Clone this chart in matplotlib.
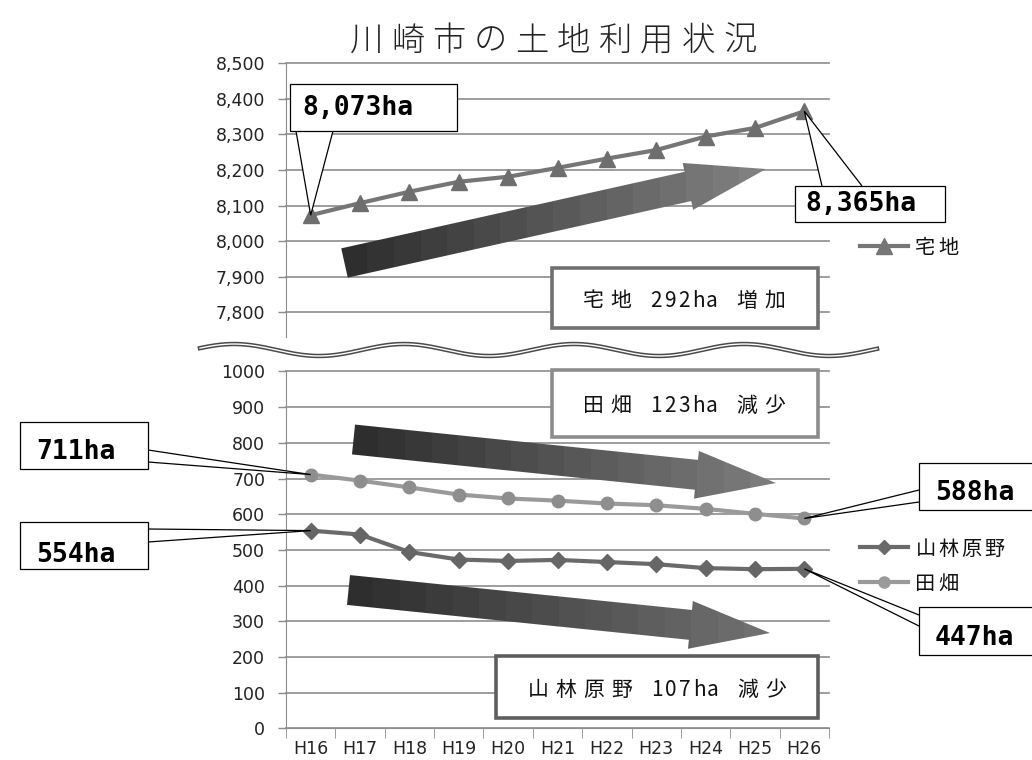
import numpy as np
import matplotlib.pyplot as plt
from matplotlib.patches import Polygon, Rectangle
from matplotlib.colors import LinearSegmentedColormap
from matplotlib.ticker import FuncFormatter

W, H = 1032, 760
JP = "Noto Sans CJK JP"

years = ["H16", "H17", "H18", "H19", "H20", "H21", "H22", "H23", "H24", "H25", "H26"]
takuchi = [8073, 8107, 8139, 8167, 8181, 8206, 8232, 8256, 8294, 8318, 8365]
denpata = [711, 694, 675, 655, 644, 638, 630, 625, 615, 601, 588]
sanrin = [554, 543, 494, 473, 469, 472, 466, 460, 449, 446, 447]

top_ticks = list(range(7800, 8501, 100))
bot_ticks = list(range(0, 1001, 100))

GRID = "#8c8c8c"

fig = plt.figure(figsize=(W / 100, H / 100), dpi=100)


def px_axes(x0, y0, x1, y1):
    return fig.add_axes([x0 / W, 1 - y1 / H, (x1 - x0) / W, (y1 - y0) / H])


x = np.arange(len(years))
ax_top = px_axes(286, 63.2, 829, 337.3)
ax_bot = px_axes(286, 371.4, 829, 728.4)

for ax in (ax_top, ax_bot):
    ax.set_xlim(-0.5, len(years) - 0.5)
    for s in ["top", "right"]:
        ax.spines[s].set_visible(False)
    ax.spines["left"].set_color(GRID)
    ax.yaxis.grid(True, color=GRID, lw=1.2)
    ax.set_axisbelow(True)
    ax.tick_params(axis="y", length=6, width=1, color=GRID, pad=9,
                   labelsize=12.5, labelcolor="#222222")

ax_top.set_ylim(7730, 8500)
ax_top.set_yticks(top_ticks)
ax_top.yaxis.set_major_formatter(FuncFormatter(lambda v, p: f"{v:,.0f}"))
ax_top.spines["bottom"].set_visible(False)
ax_top.set_xticks([])

ax_bot.set_ylim(0, 1000)
ax_bot.set_yticks(bot_ticks)
ax_bot.set_xticks(x)
ax_bot.set_xticklabels(years)
ax_bot.set_xticks(np.arange(-0.5, len(years)), minor=True)
ax_bot.tick_params(axis="x", which="major", length=0, pad=8, labelsize=12.5,
                   labelcolor="#222222")
ax_bot.tick_params(axis="x", which="minor", length=7, color=GRID)
ax_bot.spines["bottom"].set_color(GRID)

for ax in (ax_top, ax_bot):
    for gl in ax.yaxis.get_gridlines():
        gl.set_clip_on(False)

ax_top.plot(x, takuchi, color="#767676", lw=3, marker="^", ms=12,
            mfc="#6e6e6e", mec="#6e6e6e", zorder=3)
ax_bot.plot(x, denpata, color="#9a9a9a", lw=3, marker="o", ms=9,
            mfc="#8e8e8e", mec="#8e8e8e", zorder=3)
ax_bot.plot(x, sanrin, color="#6a6a6a", lw=3, marker="D", ms=8,
            mfc="#666666", mec="#666666", zorder=3)

# overlay in pixel coordinates for arrows, boxes and labels
ov = fig.add_axes([0, 0, 1, 1])
ov.set_xlim(0, W)
ov.set_ylim(H, 0)
ov.axis("off")
ov.patch.set_alpha(0)


def to_px(ax, xv, yv):
    disp = ax.transData.transform((xv, yv))
    return ov.transData.inverted().transform(disp)


def grid_text(cx, cy, s, pitch, size, ha="center", **kw):
    # full-width chars take one cell, ascii takes half
    widths = [pitch / 2 if ord(ch) < 128 else pitch for ch in s]
    pos = cx - sum(widths) / 2 if ha == "center" else cx
    base = cy + 0.38 * size * 100 / 72
    for ch, w in zip(s, widths):
        if ch != " ":
            ov.text(pos + w / 2, base, ch, ha="center", va="baseline",
                    fontsize=size, family=JP, **kw)
        pos += w


def grad_arrow(tail, tip, c0, c1, body=30, head=48, head_len=80):
    tail, tip = np.array(tail, float), np.array(tip, float)
    d = tip - tail
    u = d / np.hypot(*d)
    n = np.array([-u[1], u[0]])
    hb = tip - u * head_len
    pts = [tail + n * body / 2, hb + n * body / 2, hb + n * head / 2, tip,
           hb - n * head / 2, hb - n * body / 2, tail - n * body / 2]
    poly = Polygon(pts, closed=True, fc="none", ec="none")
    ov.add_patch(poly)
    xs = [p[0] for p in pts]
    ys = [p[1] for p in pts]
    cmap = LinearSegmentedColormap.from_list("arrow", [c0, c1])
    grad = np.linspace(0, 1, 16).reshape(1, -1)
    im = ov.imshow(grad, cmap=cmap, aspect="auto", interpolation="nearest",
                   extent=[min(xs), max(xs), max(ys), min(ys)], zorder=2)
    im.set_clip_path(poly)


def callout(text, box, base, tip, tx, ty):
    x0, y0, x1, y1 = box
    ov.add_patch(Polygon([base[0], tip, base[1]], closed=False, fc="white",
                         ec="black", lw=0.9, zorder=5))
    ov.add_patch(Rectangle((x0, y0), x1 - x0, y1 - y0, fc="white",
                           ec="black", lw=0.9, zorder=6))
    ov.text(tx, ty, text, family="DejaVu Sans Mono", weight="bold",
            fontsize=19, ha="left", va="center", zorder=7)


# title
grid_text(553, 38, "川崎市の土地利用状況", 41.5, 24, weight="light", color="#222222")

# axis break
wx = np.linspace(200, 877, 400)
wy = 350 - 6 * np.cos(2 * np.pi * (wx - 404) / 170)
ov.plot(wx, wy, color="#4a4a4a", lw=3.2, zorder=4)
ov.plot(wx, wy, color="white", lw=1.0, zorder=4)

# trend arrows
grad_arrow((344.5, 263), (766, 169), "#2e2e2e", "#808080")
grad_arrow((353.5, 439.5), (776, 483), "#2e2e2e", "#7c7c7c")
grad_arrow((348.5, 590), (770, 633), "#2e2e2e", "#707070")

# summary boxes
for (bx, by, bw, bh, ec, label, cx, cy) in [
        (552, 268, 266, 60, "#707070", "宅地 292ha 増加", 684, 299),
        (552, 370, 266, 67, "#8c8c8c", "田畑 123ha 減少", 684, 404),
        (496, 656, 322, 62, "#5e5e5e", "山林原野 107ha 減少", 657, 688)]:
    ov.add_patch(Rectangle((bx, by), bw, bh, fc="white", ec=ec, lw=2.6, zorder=3))
    grid_text(cx, cy, label, 28, 15, color="#111111", zorder=4)

# value callouts
last = len(years) - 1
callout("8,073ha", (290, 84, 457, 131), [(296, 131), (333, 131)],
        to_px(ax_top, 0, takuchi[0]), 302, 108)
callout("8,365ha", (795, 186, 945, 222), [(822, 186), (862, 186)],
        to_px(ax_top, last, takuchi[-1]), 805, 204)
callout("711ha", (20, 422, 148, 469), [(148, 450), (148, 462)],
        to_px(ax_bot, 0, denpata[0]), 36, 452)
callout("554ha", (20, 522, 148, 569), [(148, 529), (148, 542)],
        to_px(ax_bot, 0, sanrin[0]), 36, 555)
callout("588ha", (919, 463, 1045, 510), [(919, 490), (919, 502)],
        to_px(ax_bot, last, denpata[-1]), 935, 493)
callout("447ha", (919, 607, 1045, 655), [(919, 615), (919, 626)],
        to_px(ax_bot, last, sanrin[-1]), 935, 638)

# legend keys
for (ly, color, mk, ms, label) in [
        (246, "#767676", "^", 11, "宅地"),
        (547, "#6a6a6a", "D", 7, "山林原野"),
        (582, "#9a9a9a", "o", 8, "田畑")]:
    ov.plot([860, 908], [ly, ly], color=color, lw=3, zorder=4)
    ov.plot([884], [ly], marker=mk, ms=ms, color=color, zorder=4)
    grid_text(914, ly, label, 23, 14.5, ha="left", color="#111111")

ov.set_xlim(0, W)
ov.set_ylim(H, 0)

fig.savefig("out.png", dpi=100)
